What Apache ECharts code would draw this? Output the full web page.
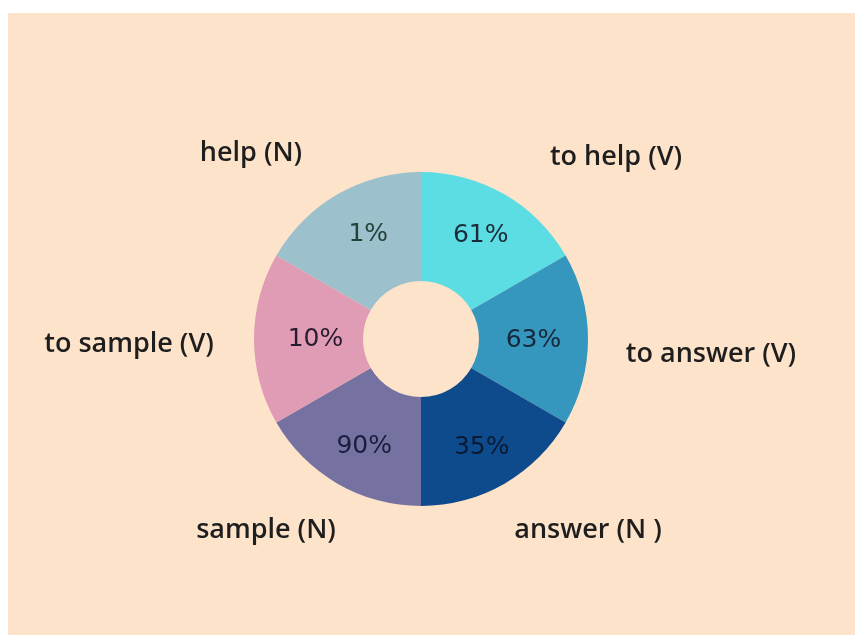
<!DOCTYPE html>
<html>
<head>
<meta charset="utf-8">
<script src="https://cdn.jsdelivr.net/npm/echarts@6/dist/echarts.min.js"></script>
<style>
  html, body { margin: 0; padding: 0; background: #ffffff; }
  #bg { position: absolute; left: 8px; top: 13px; right: 0; bottom: 0; background: #fde3c9; }
  #chart { position: absolute; left: 0; top: 0; width: 855px; height: 635px; }
</style>
</head>
<body>
<div id="bg"></div>
<div id="chart"></div>
<script>
// Data
const categories = ['to help (V)', 'to answer (V)', 'answer (N )', 'sample (N)', 'to sample (V)', 'help (N)'];
const sliceShares = [1, 1, 1, 1, 1, 1];
const percentLabels = ['61%', '63%', '35%', '90%', '10%', '1%'];

// Styles
const colors = ['#5cdde4', '#3597bd', '#0e4b8d', '#7572a2', '#e09cb5', '#9cc0cc'];
const percentColors = ['#1b2a38', '#15283a', '#0b1a33', '#1c1c3c', '#2a1c30', '#24423a'];
const percentOffsets = [[2, -3], [-3, 1], [3, 8], [1, 7], [10, 0], [5, -4]];
const namePos = [[616, 157], [711, 354], [588, 530], [266, 530], [129, 344], [251, 153]];

const chart = echarts.init(document.getElementById('chart'), null, { renderer: 'canvas' });

const innerData = categories.map((c, i) => ({
  name: c,
  value: sliceShares[i],
  itemStyle: { color: colors[i] },
  label: { formatter: percentLabels[i], color: percentColors[i], offset: percentOffsets[i] }
}));
const outerData = categories.map((c, i) => ({ name: c, value: sliceShares[i] }));

chart.setOption({
  backgroundColor: 'transparent',
  animation: false,
  series: [
    {
      type: 'pie',
      center: [421, 339],
      radius: [58, 167],
      startAngle: 90,
      clockwise: true,
      silent: true,
      data: innerData,
      label: {
        show: true,
        position: 'inside',
        fontFamily: 'DejaVu Sans',
        fontSize: 25,
        fontWeight: 'normal'
      },
      labelLine: { show: false },
      itemStyle: { borderWidth: 0 }
    },
    {
      type: 'pie',
      center: [421, 339],
      radius: [58, 167],
      startAngle: 90,
      clockwise: true,
      silent: true,
      data: outerData,
      itemStyle: { color: 'rgba(0,0,0,0)', borderWidth: 0 },
      label: {
        show: true,
        position: 'outside',
        formatter: '{b}',
        fontFamily: 'Open Sans',
        fontWeight: 600,
        fontSize: 27,
        color: '#1e1e1e'
      },
      labelLine: { show: false },
      labelLayout: function (params) {
        const p = namePos[params.dataIndex];
        return { x: p[0], y: p[1], align: 'center', verticalAlign: 'middle', hideOverlap: false };
      }
    }
  ]
});
</script>
</body>
</html>
